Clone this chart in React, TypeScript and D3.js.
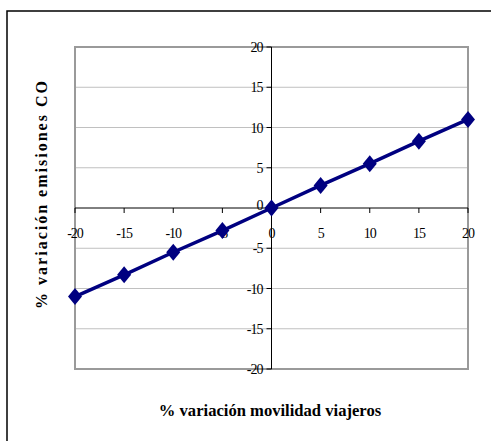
import React from "react";
import * as d3 from "d3";

const xValues = [-20, -15, -10, -5, 0, 5, 10, 15, 20];
const yValues = [-11, -8.3, -5.5, -2.8, 0, 2.8, 5.5, 8.3, 11];
const tickValues = [-20, -15, -10, -5, 0, 5, 10, 15, 20];
const xTitle = "% variación movilidad viajeros";
const yTitle = "% variación emisiones CO";

export default function App() {
  const W = 491, H = 441;
  const L = 75, R = 468, T = 47, B = 369;
  const x = d3.scaleLinear().domain([-20, 20]).range([L, R]);
  const y = d3.scaleLinear().domain([-20, 20]).range([B, T]);
  const line = d3.line<number>().x((_, i) => x(xValues[i])).y((d) => y(d));
  const x0 = x(0), y0 = y(0);
  const ff = "'Times New Roman', Times, 'Liberation Serif', 'DejaVu Serif'";
  const tickStyle = { fontFamily: ff, fontSize: "14px", letterSpacing: "-1px" };
  const titleStyle = { fontFamily: ff, fontSize: "16.6px", fontWeight: 700 as const };
  return (
    <svg width={W} height={H} style={{ position: "fixed", left: 0, top: 0 }}>
      <rect x={0} y={0} width={W} height={H} fill="#fff" />
      <rect x={7} y={11} width={W + 20} height={H + 20} fill="none" stroke="#000" strokeWidth={1.5} />
      {tickValues.filter((v) => v !== -20 && v !== 20 && v !== 0).map((v) => (
        <line key={"g" + v} x1={L} x2={R} y1={y(v)} y2={y(v)} stroke="#c0c0c0" strokeWidth={1} />
      ))}
      <rect x={L} y={T} width={R - L} height={B - T} fill="none" stroke="#9a9a9a" strokeWidth={2} />
      <line x1={L} x2={R} y1={y0} y2={y0} stroke="#000" strokeWidth={1} />
      {tickValues.map((v) => (
        <g key={"xt" + v}>
          <line x1={x(v)} x2={x(v)} y1={y0} y2={y0 + 5} stroke="#000" />
          <text x={x(v)} y={y0 + 30} textAnchor="middle" style={tickStyle}>{v}</text>
        </g>
      ))}
      <line x1={x0} x2={x0} y1={T} y2={B} stroke="#000" strokeWidth={1} />
      {tickValues.map((v) => (
        <g key={"yt" + v}>
          <line x1={x0 - 5} x2={x0} y1={y(v)} y2={y(v)} stroke="#000" />
          <text x={x0 - 9} y={y(v) + 5 - (v === 0 ? 3 : 0)} textAnchor="end" style={tickStyle}>{v}</text>
        </g>
      ))}
      <path d={line(yValues) || ""} fill="none" stroke="#000080" strokeWidth={3.5} />
      {yValues.map((v, i) => {
        const cx = x(xValues[i]), cy = y(v);
        return (
          <path key={"m" + i} d={`M${cx},${cy - 8.5}L${cx + 7},${cy}L${cx},${cy + 8.5}L${cx - 7},${cy}Z`} fill="#000080" />
        );
      })}
      <text x={270} y={416} textAnchor="middle" style={titleStyle}>{xTitle}</text>
      <text transform={`translate(47,194) rotate(-90)`} textAnchor="middle" style={{ ...titleStyle, fontSize: "16px", letterSpacing: "2px" }}>{yTitle}</text>
    </svg>
  );
}
